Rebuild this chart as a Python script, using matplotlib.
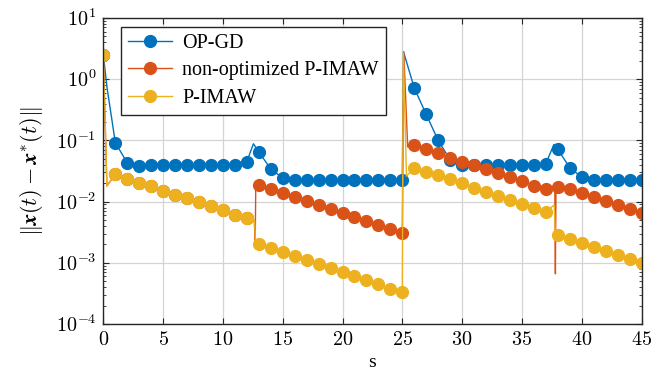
import math

import matplotlib
matplotlib.use("Agg")
import matplotlib.pyplot as plt
from matplotlib.ticker import FixedLocator, FuncFormatter, LogLocator, NullFormatter

# sampled at every integer s (these carry the markers)
s_marks = list(range(46))

opgd = [2.5, 0.092, 0.043, 0.038, 0.040, 0.040, 0.040, 0.040, 0.040, 0.040, 0.040, 0.040,
        0.045, 0.065, 0.034, 0.0244, 0.0226, 0.0224, 0.0224, 0.0224, 0.0224, 0.0224, 0.0224,
        0.0224, 0.0224, 0.0224, 0.72, 0.265, 0.100, 0.048, 0.040, 0.040, 0.040, 0.040, 0.040,
        0.040, 0.040, 0.0418, 0.071, 0.036, 0.0250, 0.0224, 0.0224, 0.0224, 0.0224, 0.0224]

nonopt = [2.5, 0.028, 0.0238, 0.0205, 0.0177, 0.015, 0.0129, 0.0113, 0.0097, 0.0084, 0.0072,
          0.0061, 0.0053, 0.019, 0.0161, 0.0139, 0.012, 0.0102, 0.0088, 0.0076, 0.0066, 0.0056,
          0.0049, 0.0042, 0.0036, 0.0031, 0.084, 0.071, 0.0615, 0.052, 0.045, 0.039, 0.0338,
          0.029, 0.025, 0.0216, 0.0183, 0.0158, 0.0174, 0.0161, 0.0139, 0.012, 0.0103, 0.0089,
          0.0076, 0.0065]

pimaw = [2.5, 0.028, 0.0238, 0.0205, 0.0177, 0.015, 0.0129, 0.0113, 0.0097, 0.0084, 0.0072,
         0.0061, 0.0053, 0.0020, 0.00174, 0.00148, 0.00127, 0.00109, 0.00094, 0.00081, 0.00070,
         0.00060, 0.00052, 0.00045, 0.00038, 0.00033, 0.036, 0.031, 0.0267, 0.023, 0.0198,
         0.0168, 0.0146, 0.0124, 0.0107, 0.0093, 0.0080, 0.0068, 0.00285, 0.00246, 0.0021,
         0.0018, 0.00157, 0.00135, 0.00116, 0.00098]

# extra line samples between markers (transients at the switching instants)
opgd_extra_s = [0.33, 0.67, 12.55, 25.1, 37.68]
opgd_extra_v = [0.68, 0.25, 0.088, 2.8, 0.086]

nonopt_extra_s = [0.3, 12.62, 12.7, 12.75, 25.12, 25.45, 37.75, 37.8, 37.85]
nonopt_extra_v = [0.018, 0.0049, 0.0022, 0.0205, 2.8, 0.078, 0.0155, 0.00066, 0.0172]

pimaw_extra_s = [0.3, 12.65, 12.72, 25.08, 25.35, 37.7, 37.8]
pimaw_extra_v = [0.018, 0.0049, 0.0021, 2.7, 0.026, 0.0088, 0.0029]

labels = ["OP-GD", "non-optimized P-IMAW", "P-IMAW"]
colors = ["#0072BD", "#D95319", "#EDB120"]


def merge(marks, extra_s, extra_v):
    pts = sorted(list(zip(s_marks, marks)) + list(zip(extra_s, extra_v)))
    xs = [p[0] for p in pts]
    ys = [p[1] for p in pts]
    every = [i for i, x in enumerate(xs) if float(x).is_integer()]
    return xs, ys, every


plt.rcParams["font.family"] = ["Liberation Serif", "DejaVu Serif"]
plt.rcParams["mathtext.fontset"] = "cm"

fig = plt.figure(figsize=(6.61, 3.73), dpi=100)
ax = fig.add_axes([0.1563, 0.1314, 0.8142, 0.8204])

series = [
    (opgd, opgd_extra_s, opgd_extra_v),
    (nonopt, nonopt_extra_s, nonopt_extra_v),
    (pimaw, pimaw_extra_s, pimaw_extra_v),
]
for (marks, es, ev), lab, col in zip(series, labels, colors):
    xs, ys, every = merge(marks, es, ev)
    ax.plot(xs, ys, "-o", color=col, lw=1.0, markersize=8.5, markevery=every, label=lab)

ax.set_yscale("log")
ax.set_xlim(0, 45)
ax.set_ylim(1e-4, 1e1)

ax.xaxis.set_major_locator(FixedLocator(range(0, 46, 5)))
ax.xaxis.set_major_formatter(FuncFormatter(lambda v, p: r"$%d$" % v))
ax.yaxis.set_major_locator(LogLocator(base=10, numticks=10))
ax.yaxis.set_minor_locator(LogLocator(base=10, subs=range(2, 10), numticks=10))
ax.yaxis.set_major_formatter(FuncFormatter(lambda v, p: r"$10^{%d}$" % round(math.log10(v))))
ax.yaxis.set_minor_formatter(NullFormatter())

ax.tick_params(which="both", direction="in", top=True, right=True, labelsize=14.5, colors="#262626")
ax.tick_params(which="major", length=4, width=0.8, pad=5)
ax.tick_params(which="minor", length=2, width=0.6)
ax.tick_params(axis="both", labelcolor="black")
ax.grid(True, which="major", color="#d4d4d4", lw=0.9)
ax.set_axisbelow(True)
for sp in ax.spines.values():
    sp.set_color("#262626")
    sp.set_linewidth(1.0)

ax.set_xlabel("s", fontsize=14, labelpad=3)
ax.set_ylabel(r"$\|\boldsymbol{x}(t)-\boldsymbol{x}^{*}(t)\|$", fontsize=16, labelpad=8)

leg = ax.legend(loc="upper left", bbox_to_anchor=(0.032, 0.97), borderaxespad=0,
                fontsize=14.5, fancybox=False, edgecolor="#262626", framealpha=1,
                handlelength=2.2, borderpad=0.35, labelspacing=0.4, handletextpad=0.5)
leg.get_frame().set_linewidth(1.0)

fig.savefig("out.png", dpi=100)
